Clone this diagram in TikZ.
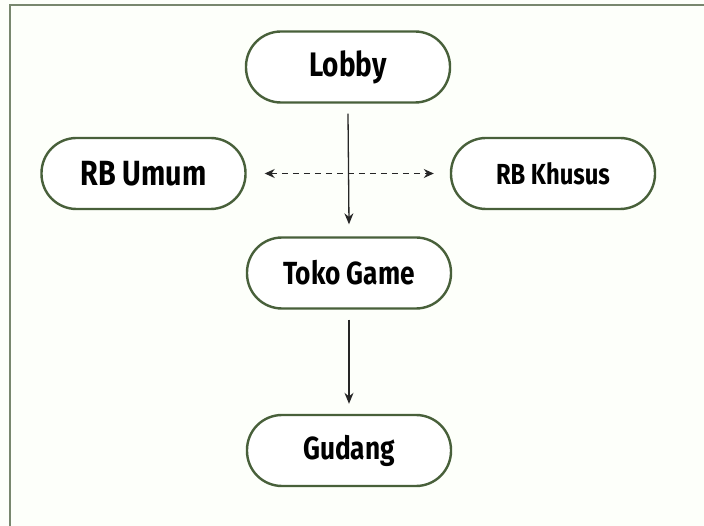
\documentclass[tikz,border=0pt]{standalone}
\usepackage{fontspec}
\setmainfont{Fira Sans}[FakeStretch=0.82]
\usetikzlibrary{arrows.meta}
\definecolor{boxline}{RGB}{72,96,58}
\definecolor{frameline}{RGB}{120,135,110}
\definecolor{paper}{RGB}{253,255,250}
\tikzset{
  room/.style={draw=boxline, line width=2.4pt, fill=white, rounded corners=35pt,
    minimum width=204pt, minimum height=71pt, inner sep=0pt, font=\bfseries},
  flow/.style={line width=1.3pt, draw=black!85, -{Stealth[length=11pt,width=9pt]}},
  link/.style={line width=1.3pt, draw=black!85, dash pattern=on 6pt off 5pt,
    {Stealth[length=10pt,width=9pt]}-{Stealth[length=10pt,width=9pt]}}
}
\begin{document}
\begin{tikzpicture}[x=1pt,y=-1pt]
  \useasboundingbox (0,0) rectangle (704,526);
  \fill[paper] (0,0) rectangle (704,526);
  % page frame: left and top edges only
  \draw[frameline, line width=2.2pt] (10,526) -- (10,5) -- (704,5);

  \node[room, font=\bfseries\fontsize{34}{36}\selectfont] (lobby) at (348,67) {Lobby};
  \node[room, font=\bfseries\fontsize{35}{37}\selectfont] (umum) at (143.5,173.5) {RB Umum};
  \node[room, font=\bfseries\fontsize{29}{31}\selectfont] (khusus) at (553,173.5) {RB Khusus};
  \node[room, font=\bfseries\fontsize{32}{34}\selectfont] (toko) at (349,273) {Toko Game};
  \node[room, font=\bfseries\fontsize{32}{34}\selectfont] (gudang) at (349,450.5) {Gudang};

  \draw[flow] ([yshift=-10pt]lobby.south) -- ([yshift=12pt]toko.north);
  \draw[link] ([xshift=18pt]umum.east) -- ([xshift=-16pt]khusus.west);
  \draw[flow] ([yshift=-10pt]toko.south) -- ([yshift=10pt]gudang.north);
\end{tikzpicture}
\end{document}
